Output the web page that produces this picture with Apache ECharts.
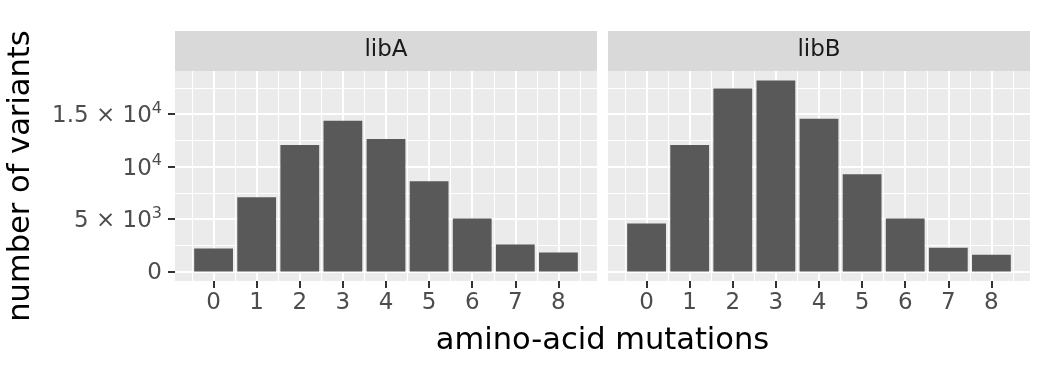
<!DOCTYPE html>
<html>
<head>
<meta charset="utf-8">
<script src="https://cdn.jsdelivr.net/npm/echarts@6/dist/echarts.min.js"></script>
<style>
html,body{margin:0;padding:0;background:#fff;}
#chart{width:1040px;height:378px;}
</style>
</head>
<body>
<div id="chart"></div>
<script>
const categories = [0, 1, 2, 3, 4, 5, 6, 7, 8];
const facets = ['libA', 'libB'];
const libA = [2180, 7070, 12060, 14370, 12640, 8610, 5060, 2560, 1800];
const libB = [4580, 12060, 17440, 18210, 14560, 9280, 5060, 2270, 1600];
const yTickValues = [0, 5000, 10000, 15000];
const yTickLabels = ['{n|0}', '{n|5 × 10}{s|3}', '{n|10}{s|4}', '{n|1.5 × 10}{s|4}'];
const yMinorValues = [2500, 7500, 12500, 17500];
const xTickLabels = ['0', '1', '2', '3', '4', '5', '6', '7', '8'];
const xMinorValues = [-0.5, 0.5, 1.5, 2.5, 3.5, 4.5, 5.5, 6.5, 7.5, 8.5];
const xTitle = 'amino-acid mutations';
const yTitle = 'number of variants';

const FONT = 'DejaVu Sans';
const seriesValues = [libA, libB];

// ggplot-like scale expansion
const barW = 0.9;
const xLo = Math.min(...categories) - barW / 2, xHi = Math.max(...categories) + barW / 2;
const xPad = (xHi - xLo) * 0.05;
const xMin = xLo - xPad, xMax = xHi + xPad;
const yMaxData = Math.max(...libA, ...libB);
const yPad = yMaxData * 0.05;
const yMin = -yPad, yMax = yMaxData + yPad;

const gridW = 422, gridH = 210, gridTop = 71;
const gridLefts = [175, 608];
const barPx = barW * gridW / (xMax - xMin);

const chart = echarts.init(document.getElementById('chart'), null, {renderer: 'canvas'});

const hiddenLine = {show: true, onZero: false, lineStyle: {color: 'rgba(0,0,0,0)', width: 1}};
const grids = [], xAxes = [], yAxes = [], series = [], graphics = [];
facets.forEach((name, i) => {
  grids.push({left: gridLefts[i], top: gridTop, width: gridW, height: gridH,
    show: true, backgroundColor: '#EBEBEB', borderWidth: 0, containLabel: false});
  xAxes.push({
    type: 'value', gridIndex: i, min: xMin, max: xMax, position: 'bottom',
    axisLine: hiddenLine,
    axisTick: {show: true, inside: false, length: 7, lineStyle: {color: '#333333', width: 2}, customValues: categories},
    axisLabel: {show: true, customValues: categories, margin: 11, fontFamily: FONT, fontSize: 23, color: '#4D4D4D',
      formatter: v => xTickLabels[categories.indexOf(Math.round(v))]},
    splitLine: {show: false}
  });
  yAxes.push({
    type: 'value', gridIndex: i, min: yMin, max: yMax, position: 'left',
    axisLine: hiddenLine,
    axisTick: {show: i === 0, inside: false, length: 7, lineStyle: {color: '#333333', width: 2}, customValues: yTickValues},
    axisLabel: {show: i === 0, customValues: yTickValues, margin: 13,
      formatter: v => yTickLabels[yTickValues.indexOf(Math.round(v))],
      rich: {
        n: {fontFamily: FONT, fontSize: 23, color: '#4D4D4D', lineHeight: 27, verticalAlign: 'bottom'},
        s: {fontFamily: FONT, fontSize: 16, color: '#4D4D4D', lineHeight: 16, verticalAlign: 'top'}
      }},
    splitLine: {show: false},
    name: i === 0 ? yTitle : '',
    nameLocation: 'middle', nameRotate: 90, nameGap: 138,
    nameTextStyle: {fontFamily: FONT, fontSize: 30.5, color: '#000000'}
  });
  const lines = [];
  categories.forEach(c => lines.push({xAxis: c, lineStyle: {width: 2}}));
  xMinorValues.forEach(c => lines.push({xAxis: c, lineStyle: {width: 1}}));
  yTickValues.forEach(v => lines.push({yAxis: v, lineStyle: {width: 2}}));
  yMinorValues.forEach(v => lines.push({yAxis: v, lineStyle: {width: 1}}));
  series.push({
    type: 'bar', name: name, xAxisIndex: i, yAxisIndex: i, z: 2,
    barWidth: barPx,
    itemStyle: {color: '#595959'},
    data: categories.map((c, k) => [c, seriesValues[i][k]]),
    animation: false,
    markLine: {
      silent: true, z: 1, symbol: ['none', 'none'], animation: false,
      label: {show: false},
      lineStyle: {color: '#FFFFFF', type: 'solid'},
      emphasis: {disabled: true},
      data: lines
    }
  });
  graphics.push({
    type: 'rect', left: gridLefts[i], top: 31, z: 0,
    shape: {width: gridW, height: 40},
    style: {fill: '#D9D9D9'}
  });
  graphics.push({
    type: 'text', x: gridLefts[i] + gridW / 2, y: 50, z: 1,
    style: {text: name, fontFamily: FONT, fontSize: 23, fill: '#1A1A1A', textAlign: 'center', textVerticalAlign: 'middle'}
  });
});
graphics.push({
  type: 'text', x: (gridLefts[0] + gridLefts[1] + gridW) / 2, y: 341,
  style: {text: xTitle, fontFamily: FONT, fontSize: 30.5, fill: '#000000', textAlign: 'center', textVerticalAlign: 'middle'}
});

chart.setOption({
  animation: false,
  backgroundColor: '#FFFFFF',
  grid: grids,
  xAxis: xAxes,
  yAxis: yAxes,
  series: series,
  graphic: graphics
});
</script>
</body>
</html>
